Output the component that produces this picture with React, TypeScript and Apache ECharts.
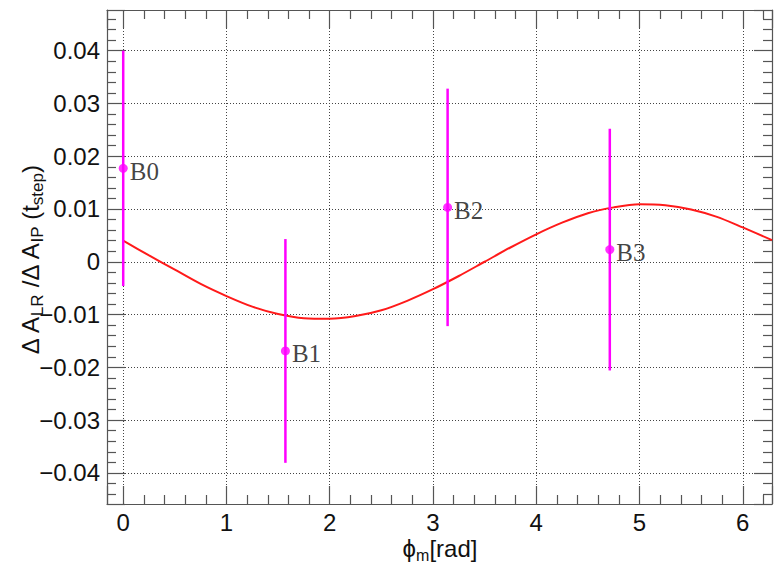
import React, { useEffect, useRef } from 'react';
import * as echarts from 'echarts';

// Measured points (phi_m in rad) with symmetric errors
const pointNames = ['B0', 'B1', 'B2', 'B3'];
const pointX = [0, 1.5708, 3.1416, 4.7124];
const pointY = [0.0177, -0.0169, 0.0103, 0.0023];
const pointErr = [0.0223, 0.0212, 0.0225, 0.0229];

// Fit curve
const fitX = [0, 0.25, 0.5, 0.75, 1, 1.25, 1.5, 1.75, 2, 2.25, 2.5, 2.75, 3, 3.25, 3.5, 3.75, 4, 4.25, 4.5, 4.75, 5, 5.25, 5.5, 5.75, 6, 6.2832];
const fitY = [0.004, 0.0012, -0.0015, -0.0042, -0.0065, -0.0085, -0.0099, -0.0107, -0.0108, -0.0103, -0.0092, -0.0074, -0.0052, -0.0027, 0.0, 0.0027, 0.0052, 0.0074, 0.0092, 0.0103, 0.0109, 0.0107, 0.0099, 0.0085, 0.0065, 0.0041];

const xMin = -0.157;
const xMax = 6.2832;
const yMin = -0.0459;
const yMax = 0.0477;

const FONT = 'Liberation Sans';
const AXIS_COLOR = '#555';

function yLabel(v: number): string {
  if (Math.abs(v) < 1e-9) return '0';
  return (v < 0 ? '\u2212' : '') + Math.abs(v).toFixed(2);
}

export default function App() {
  const ref = useRef<HTMLDivElement>(null);
  useEffect(() => {
    if (!ref.current) return;
    const chart = echarts.init(ref.current, null, { renderer: 'svg' });
    const tickCommon = {
      axisLine: { show: true, onZero: false, lineStyle: { color: AXIS_COLOR, width: 1.2 } },
      axisTick: { show: true, inside: true, length: 18, lineStyle: { color: AXIS_COLOR, width: 1.2 } },
      minorTick: { show: true, splitNumber: 5, length: 9, lineStyle: { color: AXIS_COLOR, width: 1.2 } },
    };
    chart.setOption({
      animation: false,
      backgroundColor: '#fff',
      grid: { left: 107, top: 10, right: 2, bottom: 66, containLabel: false },
      xAxis: [
        {
          type: 'value',
          min: xMin,
          max: xMax,
          position: 'bottom',
          ...tickCommon,
          axisLabel: {
            fontFamily: FONT,
            fontSize: 24,
            color: '#111',
            margin: 6,
            showMinLabel: false,
            showMaxLabel: false,
            formatter: (v: number) => String(Math.round(v)),
          },
          splitLine: { show: true, lineStyle: { color: '#444', type: [1, 2], width: 1 } },
        },
        {
          type: 'value',
          min: xMin,
          max: xMax,
          position: 'top',
          ...tickCommon,
          axisLabel: { show: false },
          splitLine: { show: false },
        },
      ],
      yAxis: [
        {
          type: 'value',
          min: yMin,
          max: yMax,
          splitNumber: 9,
          position: 'left',
          ...tickCommon,
          axisLabel: {
            fontFamily: FONT,
            fontSize: 24,
            color: '#111',
            margin: 7,
            showMinLabel: false,
            showMaxLabel: false,
            formatter: yLabel,
          },
          splitLine: { show: true, lineStyle: { color: '#444', type: [1, 2], width: 1 } },
        },
        {
          type: 'value',
          min: yMin,
          max: yMax,
          splitNumber: 9,
          position: 'right',
          ...tickCommon,
          axisLabel: { show: false },
          splitLine: { show: false },
        },
      ],
      series: [
        {
          type: 'line',
          xAxisIndex: 0,
          yAxisIndex: 0,
          data: fitX.map((x, i) => [x, fitY[i]]),
          smooth: 0.3,
          showSymbol: false,
          lineStyle: { color: '#ff1a1a', width: 2 },
          z: 2,
        },
        {
          type: 'custom',
          xAxisIndex: 0,
          yAxisIndex: 0,
          data: pointX.map((x, i) => [x, pointY[i] - pointErr[i], pointY[i] + pointErr[i]]),
          encode: { x: 0, y: [1, 2] },
          renderItem: (params: any, api: any) => {
            const lo = api.coord([api.value(0), api.value(1)]);
            const hi = api.coord([api.value(0), api.value(2)]);
            return {
              type: 'line',
              shape: { x1: lo[0], y1: lo[1], x2: hi[0], y2: hi[1] },
              style: { stroke: '#ff00ff', lineWidth: 2.5 },
            };
          },
          z: 3,
        },
        {
          type: 'scatter',
          xAxisIndex: 0,
          yAxisIndex: 0,
          data: pointX.map((x, i) => ({ value: [x, pointY[i]], name: pointNames[i] })),
          symbol: 'circle',
          symbolSize: 9,
          itemStyle: { color: '#ff00ff' },
          label: {
            show: true,
            position: 'right',
            distance: 2,
            offset: [0, 3],
            formatter: '{b}',
            fontFamily: 'Liberation Serif',
            fontSize: 25,
            color: '#111',
          },
          z: 4,
        },
      ],
      graphic: [
        {
          type: 'text',
          x: 440,
          y: 548,
          style: {
            text: '\u03D5{s|m}[rad]',
            fontFamily: FONT,
            fontSize: 24,
            fill: '#111',
            align: 'center',
            verticalAlign: 'middle',
            rich: {
              s: { fontFamily: FONT, fontSize: 16, fill: '#111', padding: [14, 0, 0, 0] },
            },
          },
        },
        {
          type: 'text',
          x: 30,
          y: 260,
          rotation: Math.PI / 2,
          style: {
            text: '\u0394 A{s|LR} /\u0394 A{s|IP} (t{s|step})',
            fontFamily: FONT,
            fontSize: 24,
            fill: '#111',
            align: 'center',
            verticalAlign: 'middle',
            rich: {
              s: { fontFamily: FONT, fontSize: 17, fill: '#111', padding: [14, 0, 0, 0] },
            },
          },
        },
      ],
    });
    return () => chart.dispose();
  }, []);
  return (
    <div
      ref={ref}
      style={{ position: 'absolute', left: 0, top: 0, width: 774, height: 570, background: '#fff' }}
    />
  );
}
